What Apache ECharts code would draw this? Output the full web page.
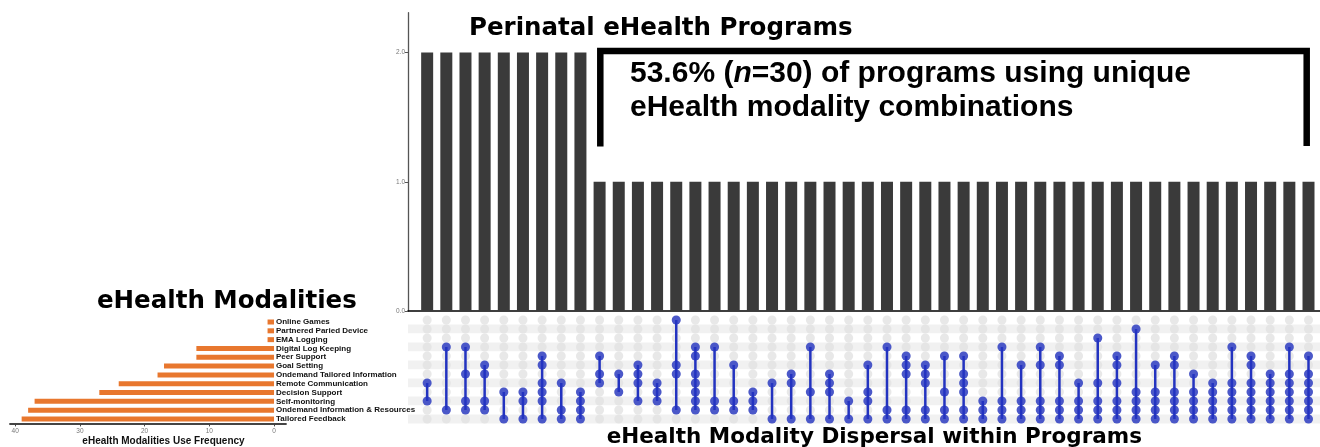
<!DOCTYPE html>
<html>
<head>
    <meta charset="utf-8">
    <title>Perinatal eHealth Programs</title>
    <script src="https://cdn.jsdelivr.net/npm/echarts@6/dist/echarts.min.js"></script>
    <style>
        * {
            margin: 0;
            padding: 0
        }

        html, body {
            width: 100%;
            height: 100%;
            background: #fff;
        }

        #main {
            width: 1320px;
            height: 447px;
        }
    </style>
</head>
<body>
<div id="main"></div>

<script type="text/javascript">
    // modalities, top row of the matrix first
    var modalities = ['Online Games', 'Partnered Paried Device', 'EMA Logging', 'Digital Log Keeping',
        'Peer Support', 'Goal Setting', 'Ondemand Tailored Information', 'Remote Communication',
        'Decision Support', 'Self-monitoring', 'Ondemand Information & Resources', 'Tailored Feedback'];
    var modalityFreq = [1, 1, 1, 12, 12, 17, 18, 24, 27, 37, 38, 39];
    var freqTicks = [0, 10, 20, 30, 40];

    // programs per combination (one bar per column)
    var comboCounts = [2, 2, 2, 2, 2, 2, 2, 2, 2,
        1, 1, 1, 1, 1, 1, 1, 1, 1, 1, 1, 1, 1, 1, 1, 1, 1, 1, 1,
        1, 1, 1, 1, 1, 1, 1, 1, 1, 1, 1, 1, 1, 1, 1, 1, 1, 1, 1];
    var countTicks = [0, 1, 2];

    // modalities in each combination, as row numbers of the list above
    var comboSets = [
        [7, 9], [3, 10], [3, 6, 9, 10], [5, 6, 9, 10], [8, 11], [8, 9, 11],
        [4, 5, 7, 8, 9, 11], [7, 10, 11], [8, 9, 10, 11], [4, 6, 7], [6, 8],
        [5, 6, 7, 9], [7, 8, 9], [0, 5, 6, 10], [3, 4, 6, 7, 8, 9, 10], [3, 9, 10],
        [5, 9, 10], [8, 9, 10], [7, 11], [6, 7, 11], [3, 8, 11], [6, 7, 8, 11],
        [9, 11], [5, 8, 9, 11], [3, 10, 11], [4, 5, 6, 10, 11], [5, 6, 7, 10, 11],
        [4, 8, 10, 11], [4, 6, 7, 8, 10, 11], [9, 10, 11], [3, 9, 10, 11],
        [5, 9, 10, 11], [3, 5, 9, 10, 11], [4, 5, 9, 10, 11], [7, 9, 10, 11],
        [2, 7, 9, 10, 11], [4, 5, 7, 9, 10, 11], [1, 8, 9, 10, 11], [5, 8, 9, 10, 11],
        [4, 5, 8, 9, 10, 11], [6, 8, 9, 10, 11], [7, 8, 9, 10, 11],
        [3, 7, 8, 9, 10, 11], [4, 5, 7, 8, 9, 10, 11], [6, 7, 8, 9, 10, 11],
        [3, 6, 7, 8, 9, 10, 11], [4, 6, 7, 8, 9, 10, 11]
    ];

    var BLUE = '#2333c0';
    var titleFont = '"DejaVu Sans", sans-serif';
    var bodyFont = '"Liberation Sans", Arial, sans-serif';

    // build series data
    var barData = [], emptyDots = [], fullDots = [], links = [];
    for (var i = 0; i < comboCounts.length; i++) {
        barData.push([i + 1, comboCounts[i]]);
        for (var r = 0; r < modalities.length; r++) {
            emptyDots.push([i + 1, r]);
        }
        var set = comboSets[i];
        for (var k = 0; k < set.length; k++) {
            fullDots.push([i + 1, set[k]]);
        }
        links.push([i + 1, Math.min.apply(null, set), Math.max.apply(null, set)]);
    }

    var myChart = echarts.init(document.getElementById('main'), null, {renderer: 'canvas'});
    myChart.setOption({
        animation: false,
        backgroundColor: '#fff',
        grid: [
            {left: 408, top: 12.7, width: 912, height: 298.3},   // combination sizes
            {left: 408, top: 315.5, width: 912, height: 108},    // matrix
            {left: 10, top: 317.6, width: 276, height: 105.8}    // modality frequencies
        ],
        xAxis: [
            {
                gridIndex: 0, type: 'value', min: 0, max: 47.6,
                axisLine: {show: true, lineStyle: {color: '#000', width: 1.5}},
                axisTick: {show: false}, axisLabel: {show: false}, splitLine: {show: false}
            },
            {
                gridIndex: 1, type: 'value', min: 0, max: 47.6, show: false
            },
            {
                gridIndex: 2, type: 'value', min: -1.85, max: 40.8, inverse: true,
                axisLine: {show: true, lineStyle: {color: '#444', width: 1.8}},
                axisTick: {show: true, customValues: freqTicks, length: 3, lineStyle: {color: '#444'}},
                axisLabel: {customValues: freqTicks, color: '#777', fontSize: 6.5, margin: 4, fontFamily: bodyFont},
                splitLine: {show: false}
            }
        ],
        yAxis: [
            {
                gridIndex: 0, type: 'value', min: 0, max: 2.308,
                axisLine: {show: true, onZero: false, lineStyle: {color: '#555', width: 1.3}},
                axisTick: {show: true, customValues: countTicks, length: 3, lineStyle: {color: '#555'}},
                axisLabel: {
                    customValues: countTicks, color: '#777', fontSize: 6.5, margin: 3, fontFamily: bodyFont,
                    formatter: function (v) { return v.toFixed(1); }
                },
                splitLine: {show: false}
            },
            {
                gridIndex: 1, type: 'category', inverse: true, data: modalities,
                axisLine: {show: false}, axisTick: {show: false, interval: 0},
                axisLabel: {show: false, interval: 0},
                splitArea: {show: true, interval: 0, areaStyle: {color: ['#ffffff', '#f1f1f1']}}
            },
            {
                gridIndex: 2, type: 'category', inverse: true, data: modalities, position: 'right',
                axisLine: {show: false, onZero: false}, axisTick: {show: false},
                axisLabel: {
                    interval: 0, margin: -10, align: 'left', color: '#111', fontSize: 8, fontWeight: 'bold',
                    fontFamily: bodyFont
                }
            }
        ],
        series: [
            {
                type: 'bar', xAxisIndex: 0, yAxisIndex: 0, data: barData,
                barWidth: 12, itemStyle: {color: '#3a3a3a'}
            },
            {
                type: 'scatter', xAxisIndex: 1, yAxisIndex: 1, data: emptyDots,
                symbolSize: 9, itemStyle: {color: '#e2e2e2'}, z: 2
            },
            {
                type: 'custom', xAxisIndex: 1, yAxisIndex: 1, data: links, z: 3,
                encode: {x: 0, y: [1, 2]},
                renderItem: function (params, api) {
                    var a = api.coord([api.value(0), api.value(1)]);
                    var b = api.coord([api.value(0), api.value(2)]);
                    return {
                        type: 'line',
                        shape: {x1: a[0], y1: a[1], x2: b[0], y2: b[1]},
                        style: {stroke: BLUE, lineWidth: 2.5}
                    };
                }
            },
            {
                type: 'scatter', xAxisIndex: 1, yAxisIndex: 1, data: fullDots,
                symbolSize: 9, itemStyle: {color: BLUE}, z: 4
            },
            {
                type: 'bar', xAxisIndex: 2, yAxisIndex: 2, data: modalityFreq,
                barWidth: 5, itemStyle: {color: '#e8772e'}
            }
        ],
        graphic: [
            {
                type: 'text', x: 469, y: 29, z: 10,
                style: {
                    text: 'Perinatal eHealth Programs', fill: '#000',
                    font: 'bold 24.5px ' + titleFont, verticalAlign: 'middle'
                }
            },
            {
                type: 'polyline', z: 10,
                shape: {points: [[600.3, 146.5], [600.3, 51], [1306.7, 51], [1306.7, 146]]},
                style: {stroke: '#000', lineWidth: 6.5, fill: null, lineJoin: 'miter'}
            },
            {
                type: 'text', x: 630, y: 74, z: 10,
                style: {
                    text: '53.6% ({i|n}=30) of programs using unique', fill: '#000',
                    font: 'bold 30px ' + bodyFont, verticalAlign: 'middle',
                    rich: {i: {fontStyle: 'italic', fontWeight: 'bold', fontSize: 30, fontFamily: bodyFont, fill: '#000'}}
                }
            },
            {
                type: 'text', x: 630, y: 108, z: 10,
                style: {
                    text: 'eHealth modality combinations', fill: '#000',
                    font: 'bold 30px ' + bodyFont, verticalAlign: 'middle'
                }
            },
            {
                type: 'text', x: 97, y: 302, z: 10,
                style: {
                    text: 'eHealth Modalities', fill: '#000',
                    font: 'bold 24.5px ' + titleFont, verticalAlign: 'middle'
                }
            },
            {
                type: 'text', x: 163.5, y: 441, z: 10,
                style: {
                    text: 'eHealth Modalities Use Frequency', fill: '#111',
                    font: 'bold 10px ' + bodyFont, align: 'center', verticalAlign: 'middle'
                }
            },
            {
                type: 'text', x: 606.7, y: 437, z: 10,
                style: {
                    text: 'eHealth Modality Dispersal within Programs', fill: '#000',
                    font: 'bold 21.5px ' + titleFont, verticalAlign: 'middle'
                }
            }
        ]
    });
</script>
</body>
</html>
